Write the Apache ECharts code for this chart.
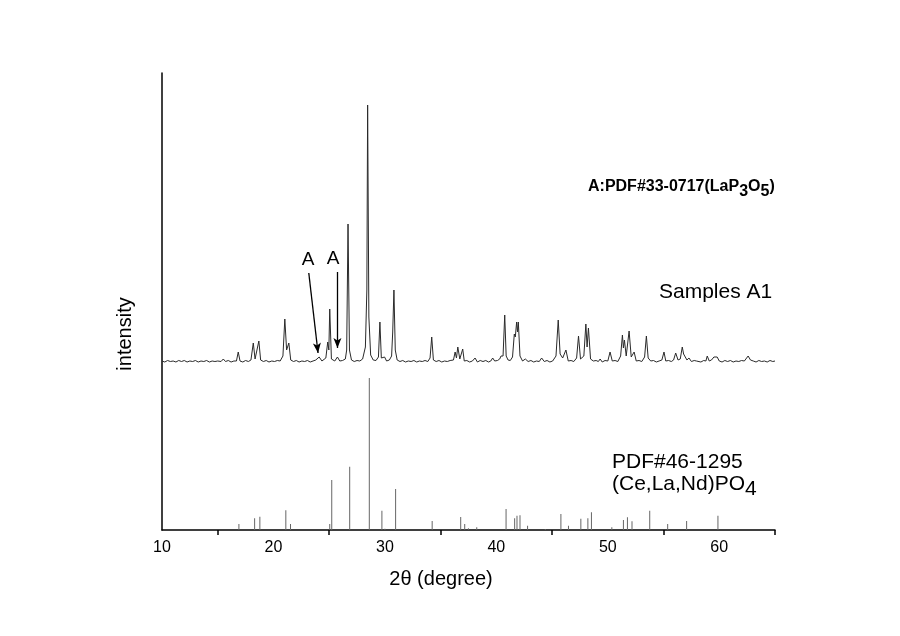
<!DOCTYPE html>
<html>
<head>
<meta charset="utf-8">
<script src="https://cdn.jsdelivr.net/npm/echarts@6/dist/echarts.min.js"></script>
<style>
html,body{margin:0;padding:0;background:#fff;}
#chart{width:900px;height:636px;}
</style>
</head>
<body>
<div id="chart"></div>
<script>
// x-axis tick labels (2θ, degree) and tick mark positions
var xLabelValues = [10, 20, 30, 40, 50, 60];
var xTickValues = [15, 25, 35, 45, 55, 65];

// Samples A1 pattern: [2θ, intensity above its own baseline]
var sampleA1 = [
  [10.0,1],[10.25,0],[10.5,1.5],[10.75,0.5],[11.0,1],[11.25,0],[11.5,1.5],[11.75,0.5],[12.0,1.5],[12.25,0],
  [12.5,1],[12.75,0.5],[13.0,1.5],[13.25,0],[13.5,1],[13.75,0.5],[14.0,1.5],[14.25,0],[14.5,1],[14.75,0.5],
  [15.0,1],[15.3,0.5],[15.5,3],[15.7,0.5],[15.95,1.5],[16.2,0],[16.45,1],[16.68,1],[16.84,10],[17.0,1],[17.25,0],
  [17.5,1.5],[17.75,0.5],[17.98,2],[18.19,19],[18.35,3],[18.5,3],[18.69,21],[18.85,2],[19.1,0.5],[19.35,1.5],
  [19.6,0],[19.85,1],[20.1,0.5],[20.35,1.5],[20.6,1],[20.85,6],[21.02,43],[21.18,12],[21.38,19],[21.55,2],
  [21.8,0.5],[22.05,1.5],[22.3,0],[22.55,1],[22.8,0.5],[23.05,1.5],[23.3,0],[23.55,1],[23.8,2],[24.1,5],[24.35,1],
  [24.7,4],[24.87,20],[24.97,12],[25.05,53],[25.2,3],[25.5,1],[25.74,5],[25.95,1],[26.2,1.5],[26.45,3],[26.57,12],
  [26.69,138],[26.82,12],[27.0,2],[27.25,0.5],[27.5,1.5],[27.75,1],[28.0,3],[28.25,15],[28.38,72],[28.45,257],
  [28.56,45],[28.72,7],[28.95,2],[29.2,1.5],[29.42,5],[29.55,40],[29.68,4],[29.82,2],[29.97,5],[30.15,1],[30.4,2],
  [30.6,6],[30.7,30],[30.81,72],[30.93,12],[31.1,2],[31.35,0.5],[31.6,1.5],[31.85,0],[32.1,1],[32.35,0.5],
  [32.6,1.5],[32.85,0],[33.1,1],[33.35,0.5],[33.6,1.5],[33.85,0.5],[34.05,4],[34.2,25],[34.35,2],[34.6,0.5],
  [34.85,1.5],[35.1,0],[35.35,1],[35.6,0.5],[35.85,1.5],[36.15,2],[36.3,10],[36.42,4],[36.54,15],[36.72,3],
  [36.85,4],[36.98,13],[37.12,1],[37.35,1.5],[37.6,0],[37.85,1],[38.09,4],[38.3,0],[38.55,1.5],[38.8,0.5],
  [39.05,1.5],[39.3,0],[39.5,1],[39.67,4],[39.85,1],[40.1,1.5],[40.3,3],[40.42,6],[40.6,6],[40.75,47],[40.88,6],
  [41.05,2],[41.25,1.5],[41.45,5],[41.61,28],[41.7,25],[41.82,40],[41.9,30],[41.97,40],[42.12,6],[42.35,1],
  [42.6,3],[42.85,0.5],[43.1,1.5],[43.35,0],[43.6,1],[43.85,0.5],[44.06,4],[44.3,0.5],[44.55,1.5],[44.8,0],
  [45.05,1],[45.35,6],[45.55,42],[45.72,8],[45.95,4],[46.24,12],[46.45,1],[46.7,1.5],[46.95,0.5],[47.2,4],
  [47.37,26],[47.55,3],[47.85,6],[48.03,38],[48.14,15],[48.26,34],[48.45,3],[48.7,1],[48.95,1.5],[49.15,0.5],
  [49.31,3],[49.5,0],[49.75,1.5],[50.0,1],[50.2,10],[50.4,1],[50.65,1.5],[50.9,0.5],[51.15,6],[51.31,27],
  [51.4,14],[51.49,22],[51.65,6],[51.91,31],[52.1,5],[52.36,10],[52.55,1],[52.8,1.5],[53.05,0.5],[53.3,5],
  [53.46,26],[53.62,4],[53.85,1],[54.1,1.5],[54.35,0],[54.6,1],[54.85,2],[55.04,10],[55.2,1],[55.45,1.5],
  [55.7,0.5],[55.9,2],[56.09,9],[56.3,2],[56.5,3],[56.68,15],[56.8,8],[56.92,10],[57.1,2],[57.28,4],[57.5,0.5],
  [57.75,1.5],[57.95,1],[58.11,3],[58.35,0],[58.6,1.5],[58.8,1],[58.92,6],[59.1,1],[59.3,2],[59.52,5],[59.65,3],
  [59.81,5],[60.0,1],[60.25,0],[60.5,1.5],[60.75,0.5],[61.0,1.5],[61.25,0],[61.5,1],[61.75,0.5],[62.0,1.5],
  [62.25,1],[62.42,2],[62.59,6],[62.8,2],[63.05,1],[63.3,0],[63.55,1.5],[63.8,0.5],[64.05,1],[64.3,0],
  [64.55,1.5],[64.8,0.5],[65.0,1]
];
// vertical offset of the sample pattern above the reference sticks
var sampleOffset = 168;

// PDF#46-1295 (Ce,La,Nd)PO4 reference lines: [2θ, intensity]
var pdf461295 = [
  [16.9,6],[18.31,11.7],[18.78,13.3],[21.11,19.7],[21.53,6],[25.05,6],[25.23,50],[26.84,63.3],[28.6,152],
  [29.73,19.3],[30.0,1.3],[30.96,41],[34.24,9],[36.8,13],[37.16,6],[37.49,1.7],[38.24,2.7],[40.87,21],
  [41.64,11.7],[41.85,14.3],[42.12,14.7],[42.8,4.3],[44.39,1],[45.79,16],[46.47,4.3],[47.58,11.3],[48.21,11.7],
  [48.53,17.7],[50.36,2.7],[51.4,10],[51.76,12.7],[52.17,8.7],[53.76,19.3],[55.37,6],[57.07,9],[59.88,14.3]
];

// "A" (LaP3O5) marker arrows: start and end points in data units [2θ, intensity]
var arrowA = [
  [[23.17, 257], [24.0, 177]],
  [[25.74, 258], [25.74, 182]]
];

var FONT = 'Liberation Sans, Arial, sans-serif';
var chart = echarts.init(document.getElementById('chart'), null, {renderer: 'canvas'});

var sampleData = sampleA1.map(function (p) { return [p[0], p[1] + sampleOffset]; });

var option = {
  backgroundColor: '#ffffff',
  animation: false,
  grid: {left: 162, right: 125, top: 73, bottom: 106, containLabel: false, outerBoundsMode: 'none'},
  xAxis: {
    type: 'value', min: 10, max: 65,
    axisLine: {show: true, onZero: false, lineStyle: {color: '#000', width: 1.5}},
    axisTick: {show: true, customValues: xTickValues, length: 5, inside: false, lineStyle: {color: '#000', width: 1.5}},
    axisLabel: {show: true, customValues: xLabelValues, margin: 10, color: '#000', fontSize: 16, fontFamily: FONT},
    splitLine: {show: false}
  },
  yAxis: {
    type: 'value', min: 0, max: 457,
    axisLine: {show: true, lineStyle: {color: '#000', width: 1.5}},
    axisTick: {show: false},
    axisLabel: {show: false},
    splitLine: {show: false}
  },
  series: [
    {
      type: 'line', data: sampleData, symbol: 'none', silent: true, smooth: false,
      lineStyle: {color: '#2a2a2a', width: 1},
      markLine: {
        silent: true, symbol: ['none', 'arrow'], symbolSize: [6, 10],
        lineStyle: {color: '#000', width: 1.3, type: 'solid'},
        label: {show: false},
        data: arrowA.map(function (a) { return [{coord: a[0]}, {coord: a[1]}]; })
      }
    },
    {
      type: 'bar', data: pdf461295, barWidth: 1, silent: true,
      itemStyle: {color: '#666'}
    }
  ],
  graphic: [
    {type: 'text', left: 588, top: 179, style: {
      text: '{b|A:PDF#33-0717(LaP}{s|3}{b|O}{s|5}{b|)}',
      rich: {
        b: {fontSize: 16, fontWeight: 'bold', fontFamily: FONT, fill: '#000'},
        s: {fontSize: 16, fontWeight: 'bold', fontFamily: FONT, fill: '#000', padding: [9, 0, 0, 0]}
      }
    }},
    {type: 'text', left: 659, top: 282, style: {text: 'Samples A1', fontSize: 21, fontFamily: FONT, fill: '#000'}},
    {type: 'text', left: 612, top: 452, style: {text: 'PDF#46-1295', fontSize: 21, fontFamily: FONT, fill: '#000'}},
    {type: 'text', left: 612, top: 474, style: {
      text: '{n|(Ce,La,Nd)PO}{s|4}',
      rich: {
        n: {fontSize: 21, fontFamily: FONT, fill: '#000'},
        s: {fontSize: 21, fontFamily: FONT, fill: '#000', padding: [10, 0, 0, 0]}
      }
    }},
    {type: 'text', x: 308, y: 260, style: {text: 'A', fontSize: 19, fontFamily: FONT, fill: '#000', align: 'center', verticalAlign: 'middle'}},
    {type: 'text', x: 333, y: 259, style: {text: 'A', fontSize: 19, fontFamily: FONT, fill: '#000', align: 'center', verticalAlign: 'middle'}},
    {type: 'text', x: 125, y: 334, rotation: Math.PI / 2, style: {text: 'intensity', fontSize: 20, fontFamily: FONT, fill: '#000', align: 'center', verticalAlign: 'middle'}},
    {type: 'text', x: 441, y: 579, style: {text: '2θ (degree)', fontSize: 20, fontFamily: FONT, fill: '#000', align: 'center', verticalAlign: 'middle'}}
  ]
};
chart.setOption(option);
</script>
</body>
</html>
